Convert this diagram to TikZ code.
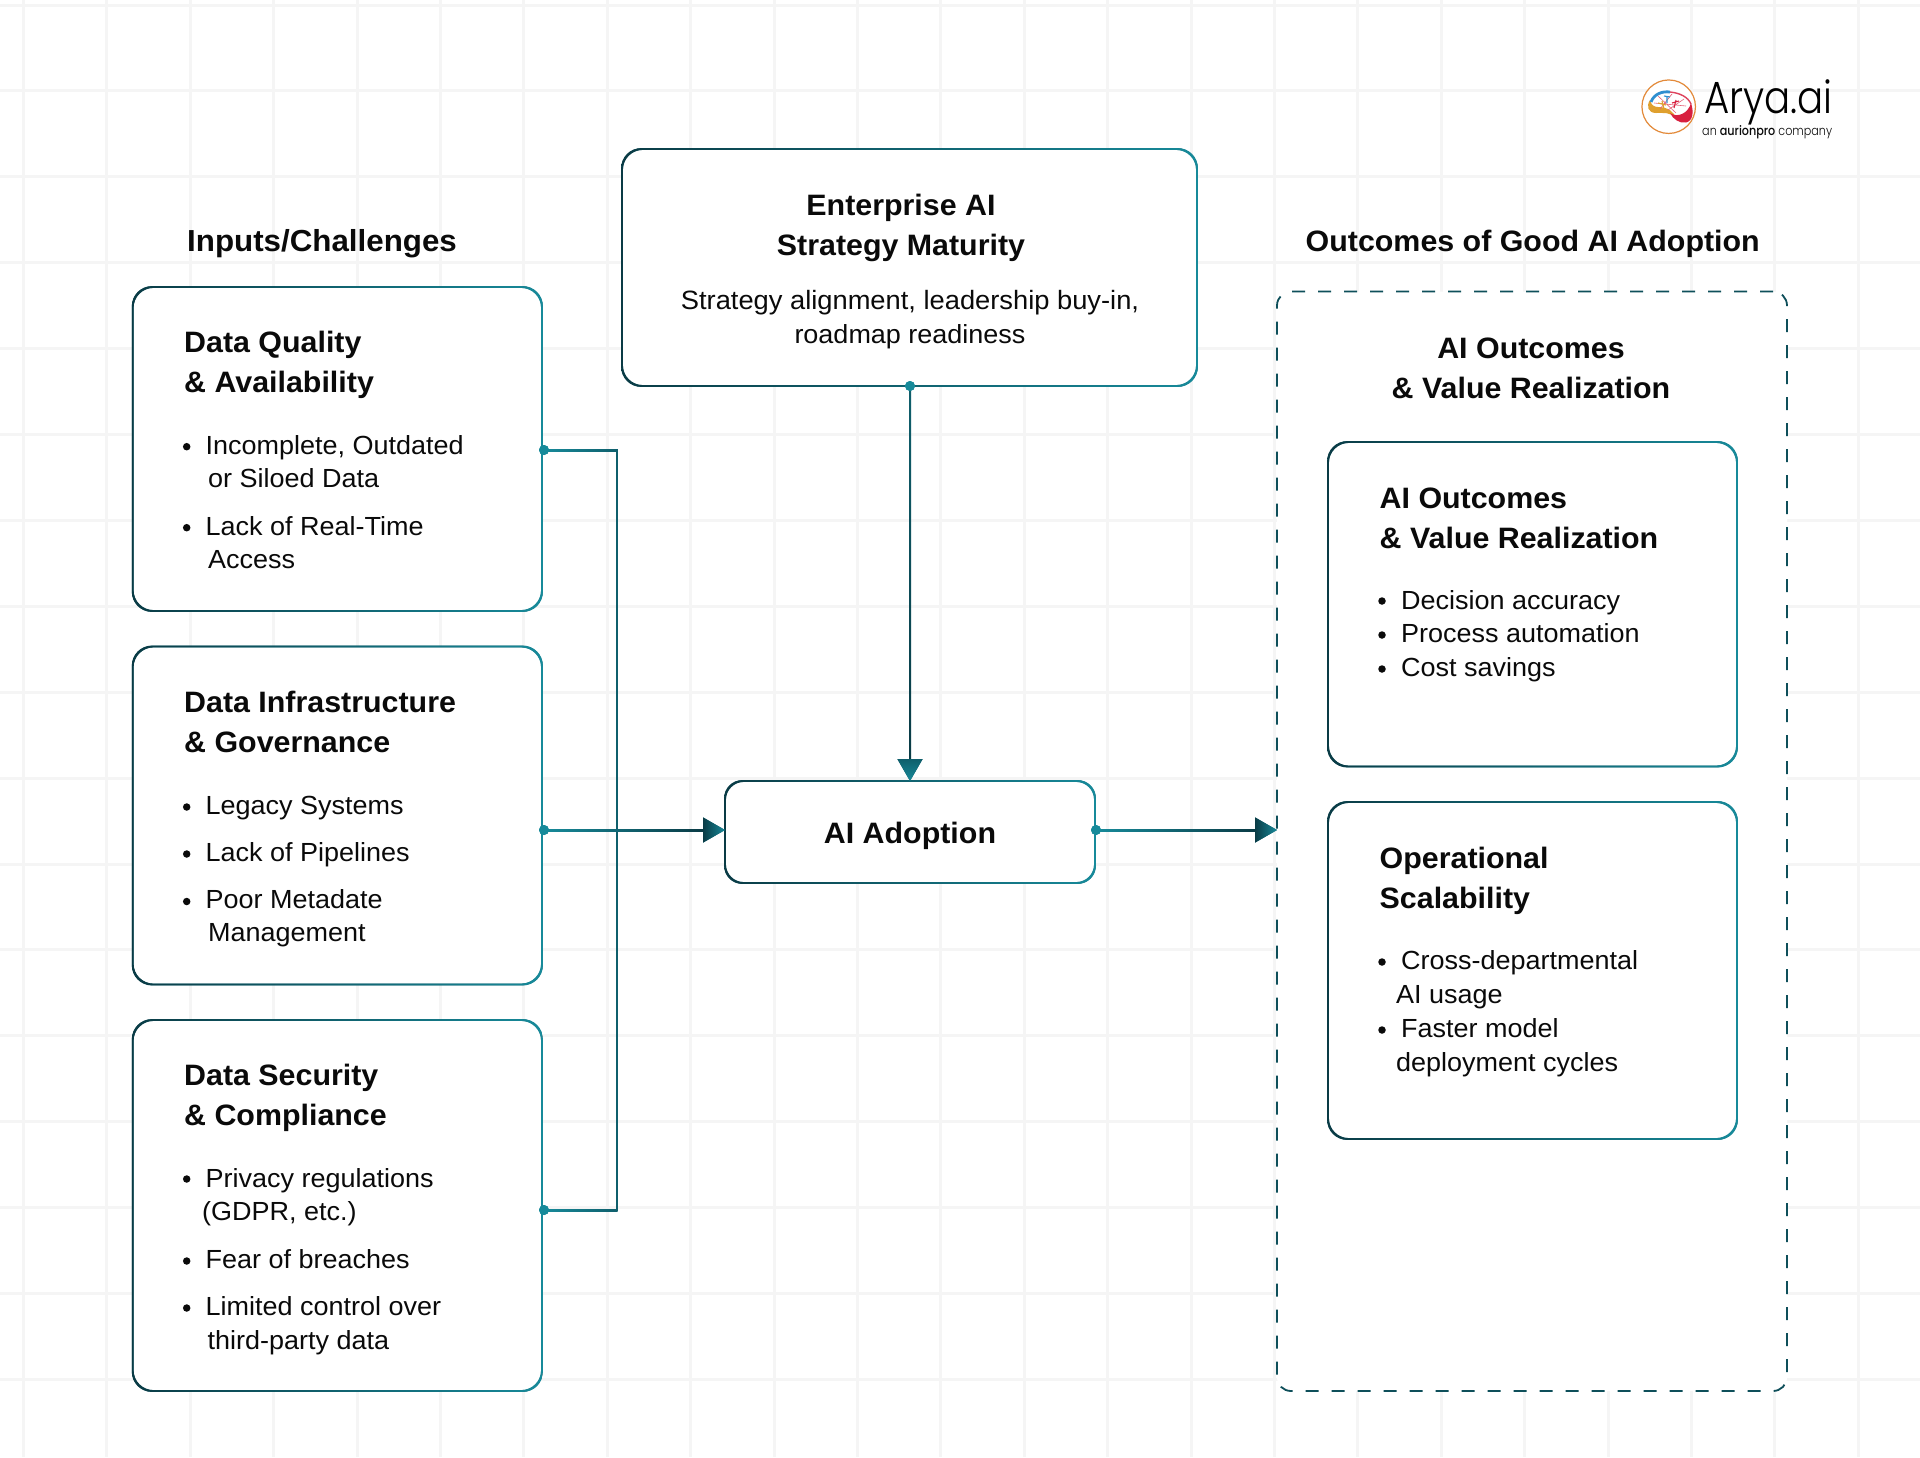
\documentclass[tikz,border=0pt]{standalone}
\usepackage{fontspec}
\setmainfont[FakeStretch=1.03]{Liberation Sans}
\newfontfamily\logofont[FakeStretch=0.86,UprightFont=* Light,BoldFont=* Medium]{Poppins}
\usetikzlibrary{arrows.meta,calc}
\definecolor{dk}{HTML}{0A3B45}
\definecolor{tl}{HTML}{178A9A}
\definecolor{md}{HTML}{0F5F6C}
\definecolor{dash}{HTML}{0E4F5A}
\definecolor{gridc}{HTML}{F5F5F5}
\definecolor{ink}{HTML}{0A0A0A}
\newcounter{tn}
\tikzset{
  x=1pt,y=-1pt,
  box/.style={draw=md,fill=white,line width=1.8pt,rounded corners=20pt,outer sep=0pt,inner sep=0pt},
  outbox/.style={draw=dash,fill=white,line width=1.8pt,rounded corners=14pt,outer sep=0pt,inner sep=0pt,dash pattern=on 13pt off 13pt},
  tt/.style={font=\fontsize{29.5}{30}\selectfont\bfseries,text=ink,inner sep=0pt},
  bd/.style={font=\fontsize{26.2}{27}\selectfont,text=ink,inner sep=0pt},
  dotn/.style={circle,fill=tl,minimum size=10pt,inner sep=0pt,outer sep=0pt},
  bul/.style={circle,fill=ink,minimum size=7.5pt,inner sep=0pt,outer sep=0pt},
  conn/.style={draw=md,line width=2pt},
  arr/.style={conn,-{Triangle[length=22pt,width=25pt]}},
}
\newcommand{\gring}[2]{\shade[left color=dk,right color=tl,even odd rule,rounded corners=#2pt]
  ([shift={(-.9,.9)}]#1.south west) rectangle ([shift={(.9,-.9)}]#1.north east)
  ([shift={(.9,-.9)}]#1.south west) rectangle ([shift={(-.9,.9)}]#1.north east);}
\newcommand{\tl}[4]{\stepcounter{tn}\node[#1,anchor=base west] (t\thetn) at (#2,#3) {#4};}
\newcommand{\tc}[4]{\stepcounter{tn}\node[#1,anchor=base] (t\thetn) at (#2,#3) {#4};}
\newcommand{\bu}[2]{\stepcounter{tn}\node[bul] (b\thetn) at (#1,#2) {};}
\begin{document}
\begin{tikzpicture}
\useasboundingbox (0,0) rectangle (1920,1457);
\fill[white] (0,0) rectangle (1920,1457);
% background grid
\foreach \k in {0,...,22} \draw[gridc,line width=3pt] ({23.5+83.4*\k},0) -- ({23.5+83.4*\k},1457);
\foreach \k in {0,...,16} \draw[gridc,line width=3pt] (0,{5+85.9*\k}) -- (1920,{5+85.9*\k});

% boxes
\node[box,minimum width=409.3pt,minimum height=324pt] (dq) at (337.35,449) {};
\node[box,minimum width=409.3pt,minimum height=338pt] (di) at (337.35,815.5) {};
\node[box,minimum width=409.3pt,minimum height=371pt] (ds) at (337.35,1205.5) {};
\node[box,minimum width=575pt,minimum height=237pt] (st) at (909.5,267.5) {};
\node[box,rounded corners=18pt,minimum width=370pt,minimum height=102pt] (ad) at (910,832) {};
\node[outbox,minimum width=510pt,minimum height=1099.5pt] (out) at (1532,841.25) {};
\node[box,minimum width=409pt,minimum height=324.5pt] (vr) at (1532.5,604.25) {};
\node[box,minimum width=409pt,minimum height=337pt] (os) at (1532.5,970.5) {};
\gring{dq}{20}\gring{di}{20}\gring{ds}{20}\gring{st}{20}\gring{ad}{18}\gring{vr}{20}\gring{os}{20}

% connection dots
\node[dotn] (d1) at (544,450) {};
\node[dotn] (d2) at (544,830) {};
\node[dotn] (d3) at (544,1210) {};
\node[dotn] (d4) at (910,386) {};
\node[dotn] (d5) at (1096,830) {};
\coordinate (tr1) at (616.5,450);
\coordinate (tr2) at (616.5,1210);

% connectors
\draw[conn] (d1.center) -- (tr1) -- (tr2) -- (d3.center);
\draw[arr] (d2.center) -- (d2 -| ad.west);
\draw[arr] (d4.center) -- (d4 |- ad.north);
\draw[arr] (d5.center) -- (d5 -| out.west);
% gradients along the connectors
\shade[left color=tl,right color=dk] (d2.center) ++(0,-1) rectangle ($(d2 -| ad.west)+(-22,1)$);
\shade[left color=tl,right color=dk] (d5.center) ++(0,-1) rectangle ($(d5 -| out.west)+(-22,1)$);
\shade[top color=md,bottom color=dk] (d4.center) ++(-1,0) rectangle ($(d4 |- ad.north)+(1,-22)$);
\shade[left color=tl,right color=md] (d1.center) ++(0,-1) rectangle ($(tr1)+(1,1)$);
\shade[left color=tl,right color=md] (d3.center) ++(0,-1) rectangle ($(tr2)+(1,1)$);
\node[dotn] at (d1) {};\node[dotn] at (d2) {};\node[dotn] at (d3) {};\node[dotn] at (d4) {};\node[dotn] at (d5) {};
% arrowhead gradients
\shade[left color=dk,right color=tl] ($(d2 -| ad.west)+(-22,-12.5)$) -- (d2 -| ad.west) -- ($(d2 -| ad.west)+(-22,12.5)$) -- cycle;
\shade[left color=dk,right color=tl] ($(d5 -| out.west)+(-22,-12.5)$) -- (d5 -| out.west) -- ($(d5 -| out.west)+(-22,12.5)$) -- cycle;
\shade[top color=md,bottom color=tl] ($(d4 |- ad.north)+(-12.5,-22)$) -- (d4 |- ad.north) -- ($(d4 |- ad.north)+(12.5,-22)$) -- cycle;

% headings
\tl{tt,font=\fontsize{30.4}{30}\selectfont\bfseries}{187}{251}{Inputs/Challenges}
\tl{tt}{1305.5}{251}{Outcomes of Good AI Adoption}

% data quality
\tl{tt}{184}{352.7}{Data Quality}
\tl{tt}{184}{392.7}{\& Availability}
\bu{186.7}{446.7}\tl{bd}{205.5}{454}{Incomplete, Outdated}
\tl{bd}{208}{487.5}{or Siloed Data}
\bu{186.7}{527.7}\tl{bd}{205.5}{535}{Lack of Real-Time}
\tl{bd}{208}{568.5}{Access}

% data infrastructure
\tl{tt}{184}{712.5}{Data Infrastructure}
\tl{tt}{184}{752.5}{\& Governance}
\bu{186.7}{807}\tl{bd}{205.5}{814.3}{Legacy Systems}
\bu{186.7}{854}\tl{bd}{205.5}{861}{Lack of Pipelines}
\bu{186.7}{901.5}\tl{bd}{205.5}{908.6}{Poor Metadate}
\tl{bd}{208}{941.6}{Management}

% data security
\tl{tt}{184}{1085.5}{Data Security}
\tl{tt}{184}{1125.5}{\& Compliance}
\bu{186.7}{1179}\tl{bd}{205.5}{1187}{Privacy regulations}
\tl{bd}{202}{1220.8}{(GDPR, etc.)}
\bu{186.7}{1261}\tl{bd}{205.5}{1268.6}{Fear of breaches}
\bu{186.7}{1308}\tl{bd}{205.5}{1315}{Limited control over}
\tl{bd}{207.5}{1349}{third-party data}

% strategy
\tc{tt}{901}{215.5}{Enterprise AI}
\tc{tt}{901}{255}{Strategy Maturity}
\tc{bd,font=\fontsize{26.5}{27}\selectfont}{910}{309}{Strategy alignment, leadership buy-in,}
\tc{bd}{910}{343}{roadmap readiness}

% adoption
\tc{tt}{910}{843}{AI Adoption}

% outcomes
\tc{tt}{1531}{358.3}{AI Outcomes}
\tc{tt}{1531}{398}{\& Value Realization}
\tl{tt}{1379.5}{508}{AI Outcomes}
\tl{tt}{1379.5}{548}{\& Value Realization}
\bu{1382}{601}\tl{bd}{1401}{609}{Decision accuracy}
\bu{1382}{635}\tl{bd}{1401}{642}{Process automation}
\bu{1382}{669}\tl{bd}{1401}{676}{Cost savings}
\tl{tt}{1379.5}{868}{Operational}
\tl{tt}{1379.5}{908.6}{Scalability}
\bu{1382}{962}\tl{bd}{1401}{969}{Cross-departmental}
\tl{bd}{1396}{1003}{AI usage}
\bu{1382}{1030}\tl{bd}{1401}{1037}{Faster model}
\tl{bd}{1396}{1071}{deployment cycles}

% logo
\definecolor{lgold}{HTML}{DFA02E}
\definecolor{lred}{HTML}{D8203F}
\definecolor{lblue}{HTML}{2F8FD0}
\node[circle,draw={rgb,255:red,227;green,138;blue,58},line width=1.2pt,fill=white,minimum size=53.5pt,inner sep=0pt] (lc) at (1668.7,106.7) {};
\fill[lgold] (1650,100) .. controls (1646,106) and (1648,113) .. (1656,113) .. controls (1664,113) and (1670,112) .. (1676,118) .. controls (1674,112) and (1668,107) .. (1658,107) .. controls (1654,107) and (1651,105) .. (1650,100) -- cycle;
\fill[lred] (1691,103) .. controls (1694,112) and (1693,121) .. (1686,122.5) .. controls (1679,123.5) and (1673,119) .. (1670,113) .. controls (1677,118) and (1688,114) .. (1691,103) -- cycle;
\draw[lblue,line width=2.8pt] (1651,102) .. controls (1654,94) and (1662,91) .. (1670,92);
\draw[lred!85,line width=1.4pt] (1670,92) .. controls (1680,93) and (1688,97) .. (1691,104);
\draw[lred!70,line width=.6pt] (1658,96) -- (1676,113) (1672,94) -- (1660,109) (1684,99) -- (1668,110) (1654,103) -- (1686,106);
\draw[lblue,line width=1.1pt] (1664,96) -- (1670,97) (1667,96) -- (1667,103);
\draw[lgold,line width=1.1pt] (1658,103) -- (1666,105) (1662,101) -- (1664,109);
\draw[lred,line width=1.1pt] (1672,103) -- (1679,101) (1676,100) -- (1674,108);
\node[inner sep=0pt,anchor=base west,text=black,font=\logofont\fontsize{45}{45}\selectfont] (la) at (1704,113.3) {Arya.ai};
\node[inner sep=0pt,anchor=base west,text=ink,font=\logofont\fontsize{13}{13}\selectfont] (lb) at (1702,135) {an \textbf{aurionpro} company};
\end{tikzpicture}
\end{document}
